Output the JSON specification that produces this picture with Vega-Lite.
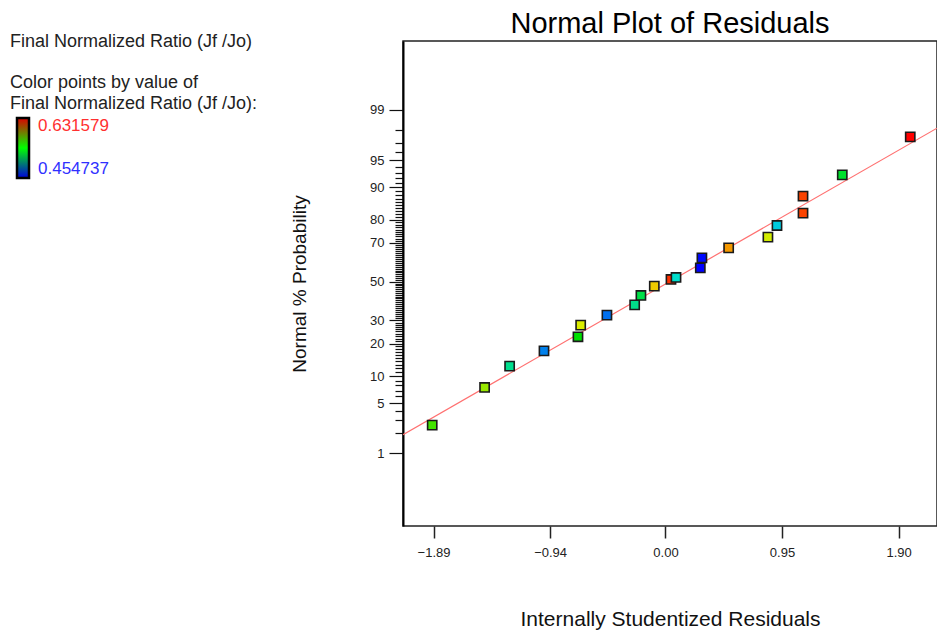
{
  "$schema": "https://vega.github.io/schema/vega-lite/v6.json",
  "width": 534,
  "height": 485,
  "autosize": {"type": "none"},
  "padding": {"left": 403, "top": 41, "right": 0, "bottom": 106},
  "background": "white",
  "config": {
    "font": "Liberation Sans",
    "view": {"stroke": "#222222", "strokeWidth": 1.5}
  },
  "title": {
    "text": "Normal Plot of Residuals",
    "font": "Liberation Sans",
    "fontSize": 29,
    "fontWeight": "normal",
    "color": "#000000",
    "anchor": "middle",
    "offset": -6
  },
  "datasets": {
    "residuals": [
      {"residual": -1.901, "normalScore": -1.943, "ratio": 0.5556},
      {"residual": -1.474, "normalScore": -1.433, "ratio": 0.5714},
      {"residual": -1.270, "normalScore": -1.144, "ratio": 0.5149},
      {"residual": -0.990, "normalScore": -0.937, "ratio": 0.4804},
      {"residual": -0.713, "normalScore": -0.747, "ratio": 0.5432},
      {"residual": -0.691, "normalScore": -0.589, "ratio": 0.5838},
      {"residual": -0.477, "normalScore": -0.454, "ratio": 0.4772},
      {"residual": -0.251, "normalScore": -0.314, "ratio": 0.5157},
      {"residual": -0.200, "normalScore": -0.187, "ratio": 0.5290},
      {"residual": -0.091, "normalScore": -0.061, "ratio": 0.5936},
      {"residual": 0.045, "normalScore": 0.030, "ratio": 0.6227},
      {"residual": 0.086, "normalScore": 0.057, "ratio": 0.5025},
      {"residual": 0.284, "normalScore": 0.187, "ratio": 0.4547},
      {"residual": 0.297, "normalScore": 0.322, "ratio": 0.4565},
      {"residual": 0.515, "normalScore": 0.458, "ratio": 0.6033},
      {"residual": 0.835, "normalScore": 0.603, "ratio": 0.5821},
      {"residual": 0.909, "normalScore": 0.761, "ratio": 0.4954},
      {"residual": 1.121, "normalScore": 0.928, "ratio": 0.6192},
      {"residual": 1.121, "normalScore": 1.158, "ratio": 0.6192},
      {"residual": 1.441, "normalScore": 1.446, "ratio": 0.5343},
      {"residual": 1.995, "normalScore": 1.961, "ratio": 0.6316}
    ],
    "fitLine": [
      {"residual": -2.139, "normalScore": -2.072},
      {"residual": 2.213, "normalScore": 2.079}
    ]
  },
  "encoding": {
    "x": {
      "field": "residual",
      "type": "quantitative",
      "scale": {"domain": [-2.139, 2.213], "nice": false, "zero": false},
      "axis": {
        "values": [-1.89, -0.94, 0, 0.95, 1.9],
        "format": ".2f",
        "grid": false,
        "domain": false,
        "tickSize": 12,
        "tickWidth": 1.5,
        "tickColor": "#222222",
        "labelFont": "Liberation Sans",
        "labelFontSize": 13,
        "labelColor": "#222222",
        "labelPadding": 8,
        "labelFlush": false,
        "title": "Internally Studentized Residuals",
        "titleFont": "Liberation Sans",
        "titleFontSize": 21,
        "titleFontWeight": "normal",
        "titleColor": "#111111",
        "titlePadding": 49
      }
    },
    "y": {
      "field": "normalScore",
      "type": "quantitative",
      "scale": {"domain": [-3.31, 3.26], "nice": false, "zero": false},
      "axis": {
        "values": [-2.3263, -2.0537, -1.8808, -1.7507, -1.6449, -1.5548, -1.4758, -1.4051, -1.3408, -1.2816, -1.2265, -1.175, -1.1264, -1.0803, -1.0364, -0.9945, -0.9542, -0.9154, -0.8779, -0.8416, -0.8064, -0.7722, -0.7388, -0.7063, -0.6745, -0.6433, -0.6128, -0.5828, -0.5534, -0.5244, -0.4959, -0.4677, -0.4399, -0.4125, -0.3853, -0.3585, -0.3319, -0.3055, -0.2793, -0.2533, -0.2275, -0.2019, -0.1764, -0.151, -0.1257, -0.1004, -0.0753, -0.0502, -0.0251, 0, 0.0251, 0.0502, 0.0753, 0.1004, 0.1257, 0.151, 0.1764, 0.2019, 0.2275, 0.2533, 0.2793, 0.3055, 0.3319, 0.3585, 0.3853, 0.4125, 0.4399, 0.4677, 0.4959, 0.5244, 0.5534, 0.5828, 0.6128, 0.6433, 0.6745, 0.7063, 0.7388, 0.7722, 0.8064, 0.8416, 0.8779, 0.9154, 0.9542, 0.9945, 1.0364, 1.0803, 1.1264, 1.175, 1.2265, 1.2816, 1.3408, 1.4051, 1.4758, 1.5548, 1.6449, 1.7507, 1.8808, 2.0537, 2.3263],
        "labelExpr": "indexof([1,5,10,20,30,50,70,80,90,95,99], round(cumulativeNormal(datum.value)*100)) >= 0 ? '' + round(cumulativeNormal(datum.value)*100) : ''",
        "labelOverlap": false,
        "labelFlush": false,
        "grid": false,
        "domain": true,
        "domainColor": "#000000",
        "domainWidth": 2,
        "tickSize": {"condition": {"test": "indexof([1,5,10,20,30,50,70,80,90,95,99], round(cumulativeNormal(datum.value)*100)) >= 0", "value": 14}, "value": 8},
        "tickWidth": 1.2,
        "tickColor": "#111111",
        "labelFont": "Liberation Sans",
        "labelFontSize": 13,
        "labelColor": "#222222",
        "labelPadding": 5,
        "title": "Normal % Probability",
        "titleFont": "Liberation Sans",
        "titleFontSize": 19,
        "titleFontWeight": "normal",
        "titleColor": "#111111",
        "titlePadding": 60
      }
    }
  },
  "layer": [
    {
      "data": {"name": "fitLine"},
      "mark": {"type": "line", "color": "#ff7070", "strokeWidth": 1.2, "clip": true}
    },
    {
      "data": {"name": "residuals"},
      "mark": {"type": "square", "size": 85, "filled": true, "opacity": 1, "stroke": "#1a1a1a", "strokeWidth": 1.6},
      "encoding": {
        "color": {
          "field": "ratio",
          "type": "quantitative",
          "scale": {
            "domain": [0.454737, 0.498948, 0.543158, 0.587369, 0.631579],
            "range": ["#0000ff", "#00dddd", "#00e000", "#eeee00", "#ff0000"],
            "interpolate": "rgb"
          },
          "legend": {
            "orient": "none",
            "legendX": -393,
            "legendY": -8,
            "direction": "vertical",
            "title": ["Final Normalized Ratio (Jf /Jo)", "\u200b", "Color points by value of", "Final Normalized Ratio (Jf /Jo):"],
            "titleFont": "Liberation Sans",
            "titleFontSize": 18,
            "titleFontWeight": "normal",
            "titleColor": "#222222",
            "titleLineHeight": 20.5,
            "titlePadding": 5.5,
            "titleLimit": 400,
            "gradientLength": 60,
            "gradientThickness": 12,
            "gradientStrokeColor": "#000000",
            "gradientStrokeWidth": 2.5,
            "values": [0.454737, 0.631579],
            "format": ".6f",
            "labelFont": "Liberation Sans",
            "labelFontSize": 17,
            "labelOffset": 16,
            "labelOverlap": false,
            "encoding": {
              "gradient": {
                "x": {"value": 7},
                "fill": {"value": {"gradient": "linear", "x1": 0, "y1": 0, "x2": 0, "y2": 1, "stops": [{"offset": 0, "color": "#dd0000"}, {"offset": 0.5, "color": "#00ff00"}, {"offset": 1, "color": "#0000dd"}]}}
              },
              "labels": {
                "fill": {"condition": {"test": "datum.value > 0.5", "value": "#ff3030"}, "value": "#3030ff"}
              }
            }
          }
        }
      }
    }
  ]
}
